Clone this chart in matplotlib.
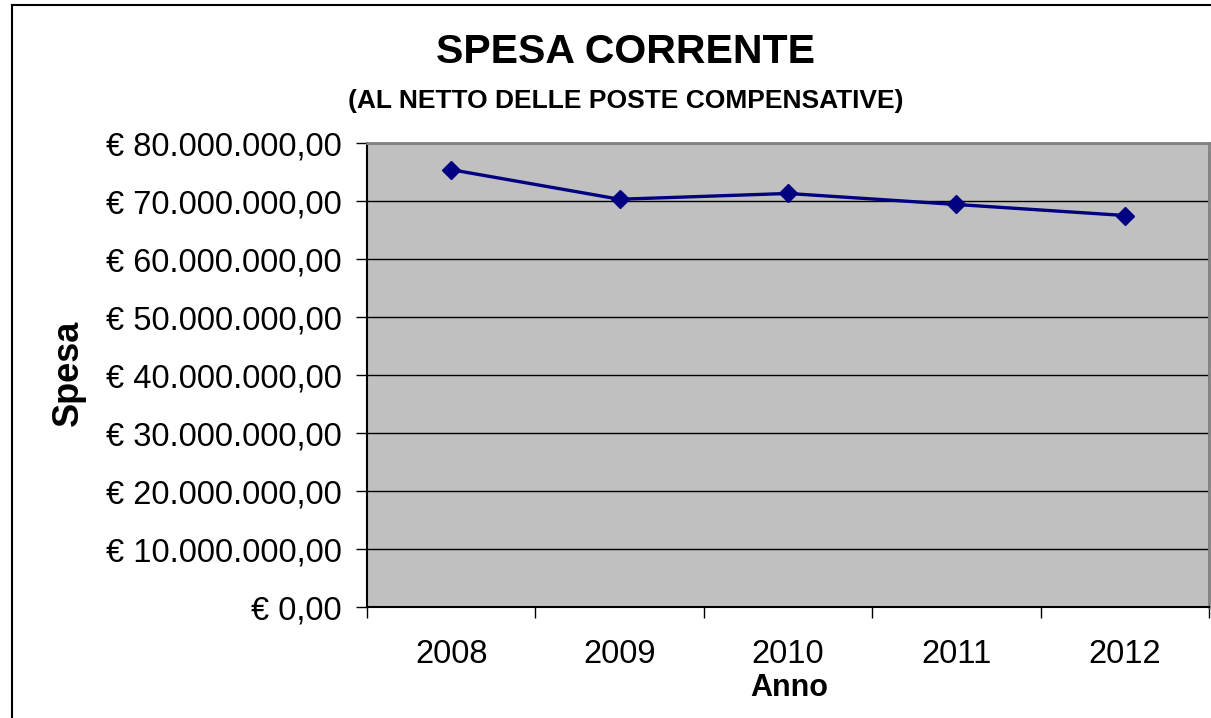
import matplotlib
matplotlib.use("Agg")
import matplotlib.pyplot as plt
from matplotlib.ticker import FuncFormatter, FixedLocator
from matplotlib.lines import Line2D

plt.rcParams["font.family"] = ["Liberation Sans", "DejaVu Sans"]

# Spesa corrente al netto delle poste compensative (euro)
anni = ["2008", "2009", "2010", "2011", "2012"]
spesa = [75_400_000, 70_300_000, 71_300_000, 69_400_000, 67_500_000]


def euro(v, _pos):
    s = f"{v:,.2f}"
    s = s.replace(",", "X").replace(".", ",").replace("X", ".")
    return f"€ {s}"


fig = plt.figure(figsize=(12.11, 7.18), dpi=100)
ax = fig.add_axes([367 / 1211, 1 - 607 / 718, (1209 - 367) / 1211, (607 - 143) / 718])

x = list(range(1, len(anni) + 1))
ax.plot(x, spesa, color="#000080", linewidth=2.4, marker="D", markersize=9, zorder=3)

ax.set_facecolor("#c0c0c0")
ax.set_xlim(0.5, len(anni) + 0.5)
ax.set_ylim(0, 80_000_000)
ax.set_yticks(range(0, 80_000_001, 10_000_000))
ax.yaxis.set_major_formatter(FuncFormatter(euro))
ax.grid(axis="y", color="black", linewidth=1)
ax.set_axisbelow(True)

ax.set_xticks(x)
ax.set_xticklabels(anni)
ax.xaxis.set_minor_locator(FixedLocator([i + 0.5 for i in range(0, len(anni) + 1)]))
ax.tick_params(axis="x", which="major", length=0, pad=23, labelsize=23.5)
ax.tick_params(axis="x", which="minor", length=8, width=1, direction="out")
ax.tick_params(axis="y", length=8, width=1, pad=10, labelsize=23.5)

for side in ["top", "right"]:
    ax.spines[side].set_color("#808080")
    ax.spines[side].set_linewidth(2)
for side in ["left", "bottom"]:
    ax.spines[side].set_color("black")
    ax.spines[side].set_linewidth(1.5)

fig.text(626 / 1211, 1 - 52 / 718, "SPESA CORRENTE", ha="center", va="center",
         fontsize=29.5, fontweight="bold")
fig.text(626 / 1211, 1 - 101 / 718, "(AL NETTO DELLE POSTE COMPENSATIVE)",
         ha="center", va="center", fontsize=19, fontweight="bold")
fig.text(68 / 1211, 1 - 373 / 718, "Spesa", ha="center", va="center",
         rotation=90, fontsize=26, fontweight="bold")
fig.text(789 / 1211, 1 - 688 / 718, "Anno", ha="center", va="center",
         fontsize=22, fontweight="bold")

# cornice esterna del grafico
fig.add_artist(Line2D([12 / 1211, 12 / 1211], [0, 1 - 5 / 718],
                      transform=fig.transFigure, color="black", linewidth=1.5))
fig.add_artist(Line2D([12 / 1211, 1], [1 - 5 / 718, 1 - 5 / 718],
                      transform=fig.transFigure, color="black", linewidth=1.5))

fig.savefig("out.png", dpi=100)
